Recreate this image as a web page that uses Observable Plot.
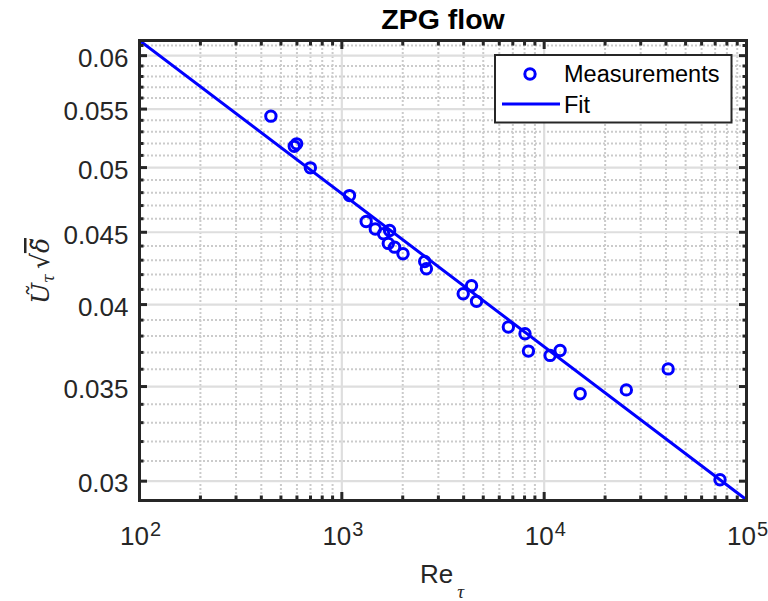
<!DOCTYPE html>
<html><head><meta charset="utf-8">
<script src="https://cdn.jsdelivr.net/npm/d3@7"></script>
<script src="https://cdn.jsdelivr.net/npm/@observablehq/plot@0.6"></script>
<style>body{margin:0;background:#fff;}</style>
</head><body><div id="chart"></div>
<script>
const title = "ZPG flow";
const seriesNames = ["Measurements", "Fit"];
const reTau = [446, 582, 598, 699, 1091, 1319, 1463, 1608, 1722, 1697, 1823, 2006, 2568, 2618, 3980, 4375, 4632, 6653, 8040, 8362, 10698, 11990, 15066, 25470, 41000, 73970];
const uTauSqrtDelta = [0.05437, 0.05176, 0.05197, 0.04998, 0.04777, 0.0458, 0.04524, 0.04489, 0.04513, 0.04419, 0.04392, 0.04345, 0.04291, 0.0424, 0.04071, 0.04125, 0.04021, 0.03856, 0.03814, 0.03708, 0.03682, 0.03712, 0.03459, 0.03481, 0.03602, 0.03007];
const fitRe = [100, 100000];
const fitU = [0.0615, 0.0291];
const xMajor = [100, 1000, 10000, 100000];
const xExponents = ["2", "3", "4", "5"];
const xMinor = [200,300,400,500,600,700,800,900,2000,3000,4000,5000,6000,7000,8000,9000,20000,30000,40000,50000,60000,70000,80000,90000];
const yMajor = [0.03, 0.035, 0.04, 0.045, 0.05, 0.055, 0.06];
const yTickLabels = ["0.03", "0.035", "0.04", "0.045", "0.05", "0.055", "0.06"];
const yMinor = [0.031,0.032,0.033,0.034,0.036,0.037,0.038,0.039,0.041,0.042,0.043,0.044,0.046,0.047,0.048,0.049,0.051,0.052,0.053,0.054,0.056,0.057,0.058,0.059,0.061];

const points = reTau.map((x, i) => ({x, y: uTauSqrtDelta[i]}));
const fit = fitRe.map((x, i) => ({x, y: fitU[i]}));
const xTicks = xMajor.map((v, i) => ({v, e: xExponents[i]}));
const yLab = new Map(yMajor.map((v, i) => [v, yTickLabels[i]]));

const dark = "#262626";
const blue = "#0000ff";
const font = "Liberation Sans, Arial, Helvetica, sans-serif";
const minorGrid = {stroke: "#cbcbcb", strokeOpacity: 1, strokeWidth: 2, strokeDasharray: "2,2"};
const majorGrid = {stroke: "#dedede", strokeOpacity: 1, strokeWidth: 2.2};
const tickOpt = (anchor, size) => ({anchor, tickSize: size, fill: "none", stroke: dark, strokeWidth: 3, strokeOpacity: 1, label: null});

const chart = Plot.plot({
  width: 768, height: 601,
  marginLeft: 139, marginRight: 22, marginTop: 40, marginBottom: 101,
  style: {fontFamily: font, background: "#fff", color: dark, overflow: "visible"},
  x: {type: "log", domain: [100, 100000]},
  y: {type: "log", domain: [0.02907, 0.0615]},
  marks: [
    Plot.gridX(xMinor, minorGrid),
    Plot.gridY(yMinor, minorGrid),
    Plot.gridX(xMajor, majorGrid),
    Plot.gridY(yMajor, majorGrid),
    Plot.line(fit, {x: "x", y: "y", stroke: blue, strokeWidth: 3, clip: true}),
    Plot.dot(points, {x: "x", y: "y", r: 5.2, stroke: blue, strokeWidth: 3, fill: "none"}),
    Plot.axisY(yMajor, tickOpt("left", -8)),
    Plot.axisY(yMajor, tickOpt("right", -8)),
    Plot.axisY(yMinor, tickOpt("left", -4.5)),
    Plot.axisY(yMinor, tickOpt("right", -4.5)),
    Plot.axisX(xMajor, tickOpt("bottom", -8)),
    Plot.axisX(xMajor, tickOpt("top", -8)),
    Plot.axisX(xMinor, tickOpt("bottom", -4.5)),
    Plot.axisX(xMinor, tickOpt("top", -4.5)),
    Plot.frame({stroke: dark, strokeWidth: 3, strokeOpacity: 1}),
    Plot.axisY(yMajor, {anchor: "left", tickSize: 0, tickPadding: 11, fontSize: 26, dy: 3, fill: dark, label: null, tickFormat: d => yLab.get(d)}),
    Plot.text(xTicks, {x: "v", text: () => "10", frameAnchor: "bottom", lineAnchor: "bottom", textAnchor: "end", dx: 9.5, dy: 44, fontSize: 26, fill: dark}),
    Plot.text(xTicks, {x: "v", text: "e", frameAnchor: "bottom", lineAnchor: "bottom", textAnchor: "start", dx: 10.5, dy: 35, fontSize: 20, fill: dark}),
    Plot.text([title], {text: d => d, frameAnchor: "top", lineAnchor: "bottom", dy: -12, fontSize: 28.5, fontWeight: "bold", fill: "#000"})
  ]
});
document.getElementById("chart").append(chart);

const svg = d3.select(chart);
// x label
const xl = svg.append("text").attr("x", 420).attr("y", 583).attr("text-anchor", "start").attr("font-size", 26).attr("font-family", font).attr("fill", dark);
xl.append("tspan").text("Re");
xl.append("tspan").attr("dx", 4).attr("dy", 15).attr("font-size", 19).attr("font-family", "Liberation Serif, DejaVu Serif, serif").attr("font-style", "italic").text("τ");
// y label
const yl = svg.append("text").attr("transform", "translate(49,271) rotate(-90)").attr("text-anchor", "middle")
  .attr("font-family", "DejaVu Serif, Liberation Serif, serif").attr("font-size", 25).attr("fill", dark);
yl.append("tspan").attr("font-style", "italic").text("Ũ");
yl.append("tspan").attr("font-style", "italic").attr("font-size", 16).attr("dy", 5).text("τ");
yl.append("tspan").attr("dy", -5).attr("dx", 5).text("√");
yl.append("tspan").attr("font-style", "italic").attr("text-decoration", "overline").text("δ̃");
// legend
const lg = svg.append("g").attr("font-family", font).attr("font-size", 23.5).attr("fill", "#000").attr("text-anchor", "start");
lg.append("rect").attr("x", 495).attr("y", 55).attr("width", 236.5).attr("height", 67.5).attr("fill", "#fff").attr("stroke", dark).attr("stroke-width", 2);
lg.append("circle").attr("cx", 530).attr("cy", 74).attr("r", 5.2).attr("fill", "none").attr("stroke", blue).attr("stroke-width", 3);
lg.append("line").attr("x1", 502).attr("x2", 560).attr("y1", 104).attr("y2", 104).attr("stroke", blue).attr("stroke-width", 3);
lg.append("text").attr("x", 564).attr("y", 82).text(seriesNames[0]);
lg.append("text").attr("x", 564).attr("y", 113).text(seriesNames[1]);
</script></body></html>
